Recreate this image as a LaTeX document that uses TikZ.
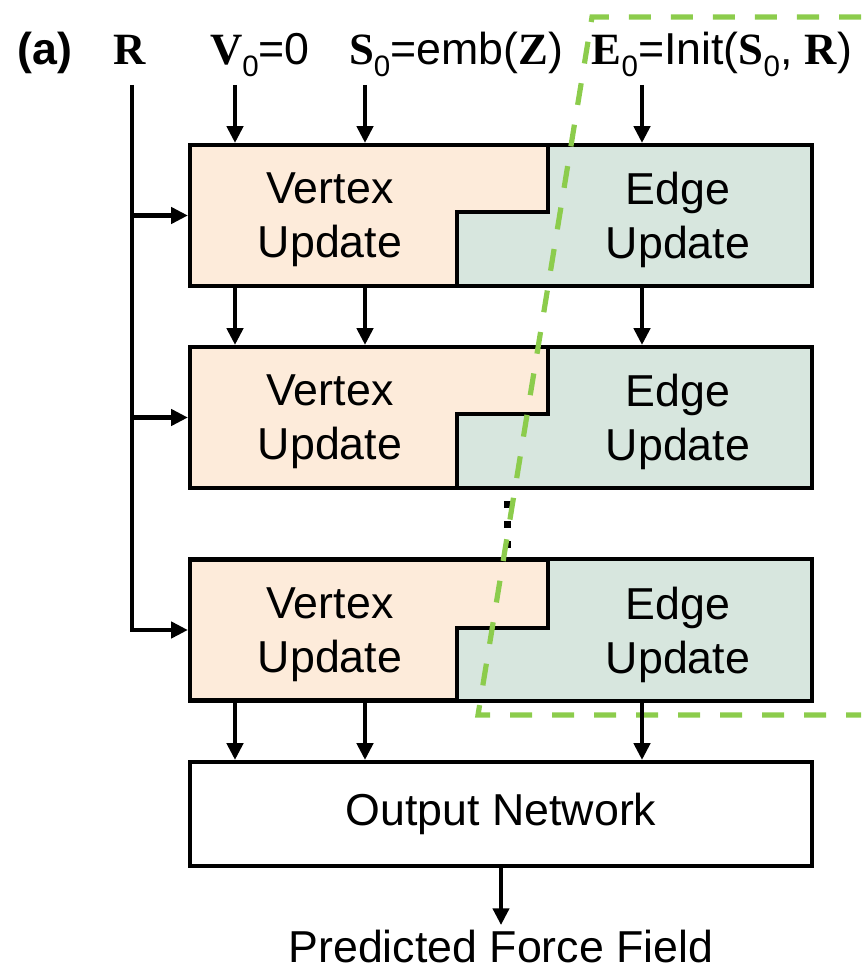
\documentclass[tikz,border=0pt]{standalone}
\usepackage{fontspec}
\setmainfont{Liberation Sans}
\newfontfamily\symfont{Liberation Serif}
\usetikzlibrary{arrows.meta}

\definecolor{vertexfill}{RGB}{253,235,218}
\definecolor{edgefill}{RGB}{215,230,222}
\definecolor{cutgreen}{RGB}{140,204,76}

\newcommand{\bsym}[1]{{\symfont\bfseries #1}}
\newcommand{\lowidx}[1]{\raisebox{-0.25em}{\fontsize{21}{21}\selectfont #1}}
\newcommand{\bigtext}{\fontsize{31.8}{38.2}\selectfont}

\tikzset{
    arr/.style={-{Triangle[width=0.4cm,length=0.42cm]}, line width=0.11cm},
    blk/.style={draw, line width=0.1cm, fill=edgefill, minimum width=15.55cm, minimum height=3.525cm, inner sep=0pt},
    vtx/.style={draw, line width=0.1cm, fill=vertexfill},
    lbl/.style={font=\bigtext, align=center, inner sep=0pt},
    cut/.style={draw=cutgreen, line width=0.13cm, dash pattern=on 0.55cm off 0.5cm}
}

\begin{document}
\begin{tikzpicture}[x=0.025cm, y=-0.025cm]
    \useasboundingbox (0,0) rectangle (861,970);

    % labels on top
    \node[lbl, anchor=base] (tag) at (45,65) {\textbf{(a)}};
    \node[lbl, anchor=base] (rin) at (130,65) {\bsym{R}};
    \node[lbl, anchor=base] (vin) at (260,65) {\bsym{V}\lowidx{0}=0};
    \node[lbl, anchor=base] (sin) at (456,65) {\bsym{S}\lowidx{0}=emb(\bsym{Z})};
    \node[lbl, anchor=base] (ein) at (722,65) {\bsym{E}\lowidx{0}=Init(\bsym{S}\lowidx{0}, \bsym{R})};

    \coordinate (rtop) at (132,85);
    \coordinate (colV) at (235,85);
    \coordinate (colS) at (365,85);
    \coordinate (colE) at (642,85);

    % update blocks
    \node[blk] (b1) at (501,215.5) {};
    \draw[vtx] (190,145) -- (548,145) -- (548,212) -- (457,212) -- (457,286) -- (190,286) -- cycle;
    \node[lbl] (v1) at (330,220) {Vertex\\Update};
    \node[lbl] (e1) at (678,220) {Edge\\Update};

    \node[blk] (b2) at (501,417.5) {};
    \draw[vtx] (190,347) -- (548,347) -- (548,414) -- (457,414) -- (457,488) -- (190,488) -- cycle;
    \node[lbl] (v2) at (330,422) {Vertex\\Update};
    \node[lbl] (e2) at (678,422) {Edge\\Update};

    \node[blk] (b3) at (501,630) {};
    \draw[vtx] (190,560) -- (548,560) -- (548,628) -- (457,628) -- (457,700) -- (190,700) -- cycle;
    \node[lbl] (v3) at (330,635) {Vertex\\Update};
    \node[lbl] (e3) at (678,635) {Edge\\Update};

    % vertical dots
    \fill (504,501) rectangle (511,508);
    \fill (504,521) rectangle (511,528);
    \fill (504,541) rectangle (511,548);

    % output
    \node[blk, fill=white, minimum height=2.6cm, lbl] (out) at (501,814) {Output Network};
    \node[lbl, anchor=base, inner sep=3pt] (pred) at (501,962) {Predicted Force Field};

    % cut line
    \draw[cut] (861,17) -- (592,17) -- (478,715) -- (861,715);

    % inputs
    \draw[arr] (colV) -- (colV |- b1.north);
    \draw[arr] (colS) -- (colS |- b1.north);
    \draw[arr] (colE) -- (colE |- b1.north);

    \draw[arr] (rtop) |- (b3.west);
    \draw[arr] (rtop |- b1.west) -- (b1.west);
    \draw[arr] (rtop |- b2.west) -- (b2.west);

    % between blocks
    \draw[arr] (b1.south -| colV) -- (b2.north -| colV);
    \draw[arr] (b1.south -| colS) -- (b2.north -| colS);
    \draw[arr] (b1.south -| colE) -- (b2.north -| colE);

    \draw[arr] (b3.south -| colV) -- (out.north -| colV);
    \draw[arr] (b3.south -| colS) -- (out.north -| colS);
    \draw[arr] (b3.south -| colE) -- (out.north -| colE);

    \draw[arr] (out.south) -- (pred.north);
\end{tikzpicture}
\end{document}
